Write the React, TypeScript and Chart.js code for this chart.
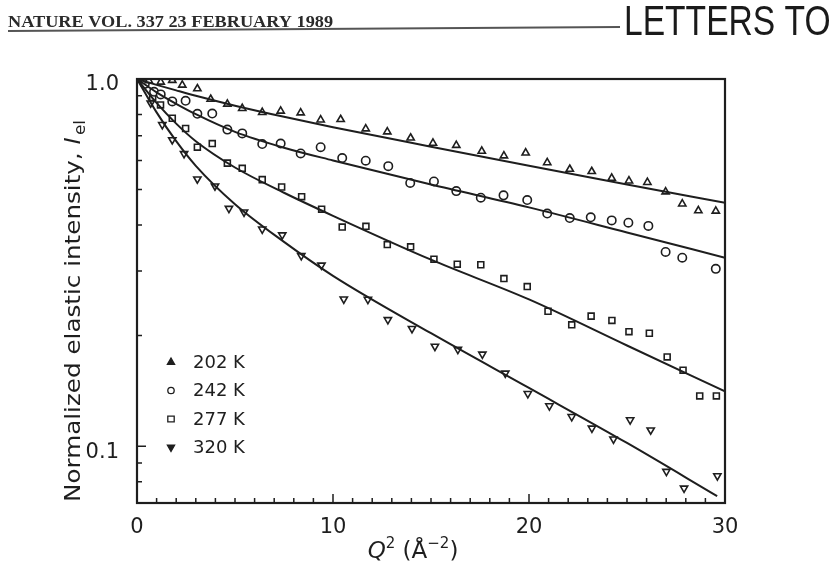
import React, { useEffect, useRef } from 'react';
import { Chart, registerables } from 'chart.js';

Chart.register(...registerables);

// ---- data ----
const q202 = [0.6, 1.21, 1.8, 2.31, 3.08, 3.76, 4.61, 5.37, 6.39, 7.33, 8.35, 9.37, 10.39, 11.67, 12.77, 13.96, 15.1, 16.29, 17.59, 18.72, 19.83, 20.93, 22.08, 23.2, 24.22, 25.1, 26.04, 26.97, 27.82, 28.64, 29.53];
const i202 = [0.99, 0.981, 0.992, 0.963, 0.941, 0.881, 0.855, 0.832, 0.811, 0.818, 0.809, 0.774, 0.776, 0.732, 0.718, 0.691, 0.669, 0.66, 0.636, 0.618, 0.629, 0.592, 0.568, 0.56, 0.537, 0.528, 0.523, 0.493, 0.457, 0.438, 0.437];

const q242 = [0.4, 0.87, 1.21, 1.8, 2.48, 3.08, 3.84, 4.61, 5.37, 6.39, 7.33, 8.35, 9.37, 10.47, 11.67, 12.82, 13.94, 15.15, 16.29, 17.54, 18.7, 19.91, 20.93, 22.08, 23.15, 24.22, 25.07, 26.09, 26.97, 27.82, 29.53];
const i242 = [0.97, 0.923, 0.908, 0.869, 0.872, 0.804, 0.805, 0.728, 0.711, 0.665, 0.667, 0.627, 0.652, 0.609, 0.599, 0.579, 0.521, 0.526, 0.495, 0.475, 0.482, 0.468, 0.43, 0.418, 0.42, 0.412, 0.406, 0.398, 0.338, 0.326, 0.304];

const q277 = [0.8, 1.2, 1.8, 2.48, 3.08, 3.84, 4.61, 5.37, 6.39, 7.38, 8.4, 9.42, 10.47, 11.68, 12.77, 13.96, 15.15, 16.34, 17.54, 18.72, 19.91, 20.97, 22.18, 23.17, 24.23, 25.1, 26.14, 27.05, 27.86, 28.71, 29.56];
const i277 = [0.89, 0.85, 0.782, 0.733, 0.652, 0.667, 0.59, 0.571, 0.532, 0.508, 0.478, 0.442, 0.395, 0.397, 0.354, 0.349, 0.323, 0.313, 0.312, 0.286, 0.272, 0.233, 0.214, 0.226, 0.22, 0.205, 0.203, 0.175, 0.161, 0.137, 0.137];

const q320 = [0.7, 1.29, 1.8, 2.4, 3.08, 3.98, 4.69, 5.46, 6.39, 7.41, 8.38, 9.41, 10.55, 11.78, 12.8, 14.03, 15.2, 16.37, 17.62, 18.79, 19.94, 21.04, 22.18, 23.21, 24.31, 25.16, 26.21, 27.01, 27.91, 29.61];
const i320 = [0.86, 0.751, 0.683, 0.626, 0.534, 0.511, 0.444, 0.434, 0.39, 0.376, 0.33, 0.311, 0.2515, 0.251, 0.221, 0.209, 0.187, 0.1834, 0.178, 0.158, 0.139, 0.1287, 0.1203, 0.1119, 0.1045, 0.1179, 0.1106, 0.0853, 0.0768, 0.083];

// fitted curves
const fitQ = [0, 1, 2, 3, 5, 7.5, 10, 15, 20, 25, 30];
const fit202 = [1.0, 0.964, 0.931, 0.9, 0.846, 0.789, 0.739, 0.654, 0.58, 0.516, 0.46];
const fit242 = [1.0, 0.92, 0.856, 0.802, 0.718, 0.65, 0.6, 0.516, 0.447, 0.382, 0.326];
const fit277 = [1.0, 0.861, 0.756, 0.677, 0.574, 0.49, 0.424, 0.322, 0.251, 0.188, 0.141];
const fitQ320 = [0, 1, 2, 3, 5, 7.5, 10, 15, 20, 25, 29.6];
const fit320 = [1.0, 0.811, 0.677, 0.58, 0.456, 0.36, 0.291, 0.203, 0.144, 0.102, 0.0731];

const xTicks = [0, 10, 20, 30];
const yTicks = [0.1, 1.0];
const yMinorTicks = [0.07, 0.08, 0.09, 0.2, 0.3, 0.4, 0.5, 0.6, 0.7, 0.8, 0.9];
const legendLabels = ['202 K', '242 K', '277 K', '320 K'];
const legendStyles = ['tri', 'circle', 'square', 'itri'];
const headerLeft = 'NATURE VOL. 337 23 FEBRUARY 1989';
const headerRight = 'LETTERS TO NATURE';
const yTitleMain = 'Normalized elastic intensity, ';

const INK = '#1e1e1e';
const FONT = '"DejaVu Sans", sans-serif';

function drawMarker(ctx: CanvasRenderingContext2D, style: string, x: number, y: number, r: number, filled: boolean) {
  ctx.beginPath();
  if (style === 'tri') {
    ctx.moveTo(x, y - r);
    ctx.lineTo(x + r * 0.9, y + r * 0.6);
    ctx.lineTo(x - r * 0.9, y + r * 0.6);
    ctx.closePath();
  } else if (style === 'itri') {
    ctx.moveTo(x, y + r);
    ctx.lineTo(x + r * 0.9, y - r * 0.6);
    ctx.lineTo(x - r * 0.9, y - r * 0.6);
    ctx.closePath();
  } else if (style === 'circle') {
    ctx.arc(x, y, r * 0.8, 0, Math.PI * 2);
  } else {
    ctx.rect(x - r * 0.8, y - r * 0.7, r * 1.6, r * 1.4);
  }
  if (filled) {
    ctx.fillStyle = INK;
    ctx.fill();
  }
  ctx.stroke();
}

const decor = {
  id: 'decor',
  afterDraw(chart: any) {
    const ctx: CanvasRenderingContext2D = chart.ctx;
    const { left, right, top, bottom } = chart.chartArea;
    const xs = chart.scales.x;
    const ys = chart.scales.y;
    ctx.save();
    // frame
    ctx.strokeStyle = INK;
    ctx.lineWidth = 2.2;
    ctx.strokeRect(left, top, right - left, bottom - top);
    // inward ticks
    ctx.lineWidth = 1.5;
    ctx.beginPath();
    for (let v = 0; v <= 30; v++) {
      const px = xs.getPixelForValue(v);
      const len = v % 10 === 0 ? 9 : 5;
      ctx.moveTo(px, bottom);
      ctx.lineTo(px, bottom - len);
    }
    for (const v of [...yTicks, ...yMinorTicks]) {
      const py = ys.getPixelForValue(v);
      const len = yTicks.includes(v) ? 9 : 5;
      ctx.moveTo(left, py);
      ctx.lineTo(left + len, py);
    }
    ctx.stroke();

    // legend
    ctx.font = `18px ${FONT}`;
    ctx.textBaseline = 'middle';
    ctx.textAlign = 'left';
    legendLabels.forEach((lab, k) => {
      const y = 362 + k * 28.5;
      ctx.strokeStyle = INK;
      ctx.lineWidth = 1.3;
      const st = legendStyles[k];
      drawMarker(ctx, st, 171, y, 4, st === 'tri' || st === 'itri');
      ctx.fillStyle = INK;
      ctx.fillText(lab, 193, y + 1);
    });

    // y title
    ctx.save();
    ctx.translate(72, 311);
    ctx.rotate(-Math.PI / 2);
    ctx.font = `22px ${FONT}`;
    const wMain = ctx.measureText(yTitleMain).width;
    ctx.font = `italic 22px ${FONT}`;
    const wI = ctx.measureText('I').width;
    ctx.font = `15px ${FONT}`;
    const wSub = ctx.measureText('el').width;
    const total = wMain + wI + wSub + 2;
    ctx.scale(382 / total, 1);
    let x0 = -total / 2;
    ctx.fillStyle = INK;
    ctx.textBaseline = 'alphabetic';
    ctx.font = `22px ${FONT}`;
    ctx.fillText(yTitleMain, x0, 8);
    x0 += wMain;
    ctx.font = `italic 22px ${FONT}`;
    ctx.fillText('I', x0, 8);
    x0 += wI + 2;
    ctx.font = `15px ${FONT}`;
    ctx.fillText('el', x0, 13);
    ctx.restore();

    // x title: Q^2 (Å^-2)
    const parts: [string, string, number][] = [
      ['Q', `italic 23px ${FONT}`, 0],
      ['2', `15px ${FONT}`, -10],
      [' (Å', `23px ${FONT}`, 0],
      ['−2', `15px ${FONT}`, -10],
      [')', `23px ${FONT}`, 0],
    ];
    let tw = 0;
    const widths = parts.map(([t, f]) => {
      ctx.font = f;
      const w = ctx.measureText(t).width;
      tw += w;
      return w;
    });
    let cx = 413 - tw / 2;
    ctx.textBaseline = 'alphabetic';
    ctx.fillStyle = INK;
    parts.forEach(([t, f, dy], k) => {
      ctx.font = f;
      ctx.fillText(t, cx, 558 + dy);
      cx += widths[k];
    });

    // header
    ctx.fillStyle = '#2a2a2a';
    ctx.font = `bold 17px "Liberation Serif", serif`;
    const hw = ctx.measureText(headerLeft).width;
    ctx.save();
    ctx.translate(8, 27);
    ctx.scale(325 / hw, 1);
    ctx.fillText(headerLeft, 0, 0);
    ctx.restore();
    ctx.strokeStyle = '#555';
    ctx.lineWidth = 2;
    ctx.beginPath();
    ctx.moveTo(8, 31);
    ctx.lineTo(620, 27);
    ctx.stroke();
    ctx.fillStyle = '#1a1a1a';
    ctx.font = `42px "Liberation Sans", sans-serif`;
    ctx.save();
    ctx.translate(624, 35);
    ctx.scale(0.8, 1);
    ctx.fillText(headerRight, 0, 0);
    ctx.restore();

    ctx.restore();
  },
};

function pts(q: number[], v: number[]) {
  return q.map((x, k) => ({ x, y: v[k] }));
}

export default function App() {
  const ref = useRef<HTMLCanvasElement | null>(null);
  useEffect(() => {
    if (!ref.current) return;
    const markerDs = (label: string, q: number[], v: number[], style: string, rot: number) => ({
      label,
      data: pts(q, v),
      showLine: false,
      pointStyle: style,
      pointRotation: rot,
      pointRadius: 4.2,
      pointBorderWidth: 1.6,
      pointBorderColor: INK,
      pointBackgroundColor: 'rgba(255,255,255,0.9)',
    });
    const fitDs = (label: string, q: number[], v: number[]) => ({
      label,
      data: pts(q, v),
      showLine: true,
      pointRadius: 0,
      borderColor: INK,
      borderWidth: 2,
      cubicInterpolationMode: 'monotone',
      fill: false,
    });
    const chart = new Chart(ref.current, {
      type: 'scatter',
      data: {
        datasets: [
          fitDs('fit 202 K', fitQ, fit202),
          fitDs('fit 242 K', fitQ, fit242),
          fitDs('fit 277 K', fitQ, fit277),
          fitDs('fit 320 K', fitQ320, fit320),
          markerDs('202 K', q202, i202, 'triangle', 0),
          markerDs('242 K', q242, i242, 'circle', 0),
          markerDs('277 K', q277, i277, 'rect', 0),
          markerDs('320 K', q320, i320, 'triangle', 180),
        ] as any,
      },
      options: {
        animation: false,
        responsive: false,
        devicePixelRatio: 1,
        layout: { padding: { top: 79, right: 115, left: 0, bottom: 0 } },
        plugins: { legend: { display: false }, tooltip: { enabled: false } },
        scales: {
          x: {
            type: 'linear',
            min: 0,
            max: 30,
            grid: { display: false },
            border: { display: false },
            afterBuildTicks: (s: any) => {
              s.ticks = xTicks.map((v) => ({ value: v }));
            },
            afterFit: (s: any) => {
              s.height = 70;
            },
            ticks: {
              padding: 4,
              color: INK,
              font: { family: 'DejaVu Sans', size: 21 },
              maxRotation: 0,
              autoSkip: false,
              callback: (v: any) => String(v),
            },
          },
          y: {
            type: 'logarithmic',
            min: 0.07,
            max: 1.0,
            grid: { display: false },
            border: { display: false },
            afterBuildTicks: (s: any) => {
              s.ticks = yTicks.map((v) => ({ value: v }));
            },
            afterFit: (s: any) => {
              s.width = 137;
            },
            ticks: {
              padding: 10,
              labelOffset: 6,
              color: INK,
              font: { family: 'DejaVu Sans', size: 21 },
              autoSkip: false,
              callback: (v: any) => Number(v).toFixed(1),
            },
          },
        },
      } as any,
      plugins: [decor],
    });
    return () => chart.destroy();
  }, []);
  return (
    <div style={{ position: 'absolute', left: 0, top: 0, width: 840, height: 573, background: '#fff' }}>
      <canvas ref={ref} width={840} height={573} style={{ display: 'block', width: 840, height: 573 }} />
    </div>
  );
}
